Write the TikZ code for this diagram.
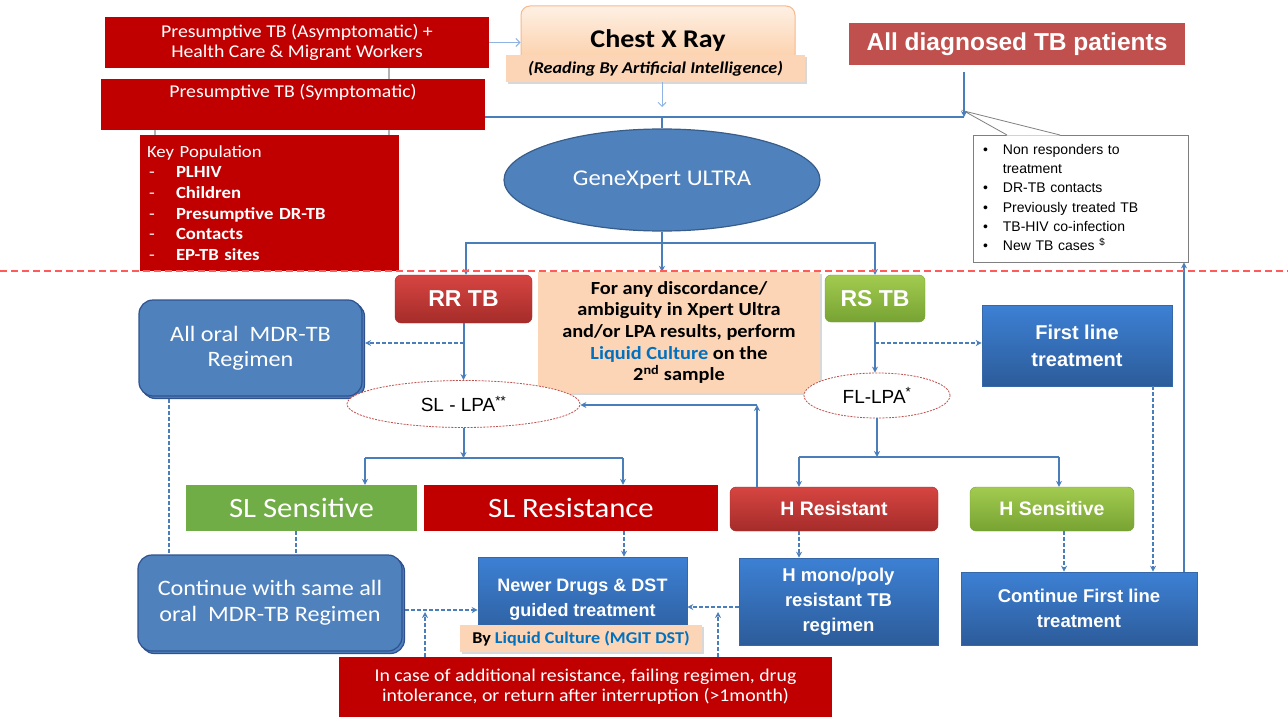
\documentclass[tikz,border=0pt]{standalone}
\usepackage{fontspec}
\setmainfont{Carlito}[FakeStretch=1.1]
\newfontfamily\arial{Liberation Sans}
\usetikzlibrary{arrows.meta,shapes.geometric,shadows,backgrounds}
\newcommand{\myfs}[2]{\fontsize{#1pt}{#2pt}\selectfont}
\definecolor{dred}{HTML}{C00000}
\definecolor{diagred}{HTML}{C0504D}
\definecolor{geneblue}{HTML}{4F81BD}
\definecolor{genedark}{HTML}{385D8A}
\definecolor{lineblue}{HTML}{4A7EBB}
\definecolor{lightline}{HTML}{8EB4E3}
\definecolor{peachc}{HTML}{FBD5B5}
\definecolor{cxrtop}{HTML}{FEF0E4}
\definecolor{cxrbot}{HTML}{FBC79A}
\definecolor{cxrborder}{HTML}{F9B88A}
\definecolor{lcblue}{HTML}{0070C0}
\definecolor{slgreen}{HTML}{70AD47}
\definecolor{oralblue}{HTML}{4F81BD}
\definecolor{oraldark}{HTML}{2F528F}
\definecolor{bgtop}{HTML}{3D80D4}
\definecolor{bgbot}{HTML}{2C5C9A}
\definecolor{bgborder}{HTML}{3668A8}
\definecolor{rgtop}{HTML}{D64541}
\definecolor{rgbot}{HTML}{A52C2A}
\definecolor{ggtop}{HTML}{A2CB4F}
\definecolor{ggbot}{HTML}{77A333}
\definecolor{lpared}{HTML}{C0504D}
\definecolor{callgray}{HTML}{7F7F7F}
\definecolor{reddash}{HTML}{FF5B5B}
\tikzset{
  redbox/.style={fill=dred, text=white, inner sep=0pt},
  bluegrad/.style={top color=bgtop, bottom color=bgbot, draw=bgborder, line width=0.6pt, text=white, inner sep=0pt},
  redgrad/.style={top color=rgtop, bottom color=rgbot, draw=rgbot, rounded corners=6pt, text=white, inner sep=0pt},
  greengrad/.style={top color=ggtop, bottom color=ggbot, draw=ggbot, rounded corners=6pt, text=white, inner sep=0pt},
  peachbox/.style={fill=peachc, inner sep=0pt, drop shadow={shadow xshift=2pt,shadow yshift=-2pt,opacity=0.3}},
  oral/.style={fill=oralblue, draw=oraldark, line width=1.2pt, rounded corners=14pt, text=white, inner sep=0pt},
  lpa/.style={ellipse, draw=lpared, dash pattern=on 2pt off 1.2pt, line width=0.8pt, fill=white, inner sep=0pt},
  conn/.style={draw=lineblue, line width=2pt},
  arr/.style={conn, -{Stealth[length=6pt,width=6pt]}},
  dconn/.style={draw=lineblue, line width=1.6pt, dash pattern=on 4pt off 2pt},
  darr/.style={dconn, -{Stealth[length=6pt,width=6pt]}},
  thinarr/.style={draw=lightline, line width=1pt, -{Straight Barb[length=4pt,width=8pt]}},
}
\begin{document}
\begin{tikzpicture}[x=1pt,y=-1pt]
\useasboundingbox (0,0) rectangle (1288,717);

% ---------- top section ----------
\node[redbox, minimum width=384pt, minimum height=51pt, align=center, font={\myfs{18}{20}}] (asym) at (297,42.5)
  {Presumptive TB (Asymptomatic) +\\Health Care \& Migrant Workers};
\node[redbox, minimum width=384pt, minimum height=51pt, align=center, font={\myfs{18}{21}}] (symp) at (293,104.5)
  {Presumptive TB (Symptomatic)\\\strut};
\node[redbox, minimum width=259pt, minimum height=136pt, text width=245pt, align=left, font={\myfs{17}{20.7}}] (key) at (269.5,203)
  {Key Population\\
   \makebox[29pt][l]{\hspace*{2pt}-}\textbf{PLHIV}\\
   \makebox[29pt][l]{\hspace*{2pt}-}\textbf{Children}\\
   \makebox[29pt][l]{\hspace*{2pt}-}\textbf{Presumptive DR-TB}\\
   \makebox[29pt][l]{\hspace*{2pt}-}\textbf{Contacts}\\
   \makebox[29pt][l]{\hspace*{2pt}-}\textbf{EP-TB sites}};

\node[top color=cxrtop, bottom color=cxrbot, draw=cxrborder, line width=1pt, rounded corners=9pt,
      minimum width=274pt, minimum height=70pt, inner sep=0pt, font={\bfseries\myfs{25.5}{28}}] (cxr) at (658,41) {Chest X Ray};
\node[peachbox, minimum width=299pt, minimum height=27pt, font={\bfseries\itshape\myfs{16.5}{18}}] (ai) at (655.5,68.5)
  {(Reading By Artificial Intelligence)};

\node[fill=diagred, minimum width=336pt, minimum height=42pt, inner sep=0pt, text=white, font={\arial\bfseries\myfs{24.5}{26}}] (diag) at (1017,44)
  {All diagnosed TB patients};

\node[ellipse, fill=geneblue, draw=genedark, line width=1.2pt, minimum width=316pt, minimum height=102pt, inner sep=0pt,
      text=white, font={\myfs{22.5}{25}}] (gx) at (662,180) {GeneXpert ULTRA};

\node[draw=callgray, fill=white, line width=0.8pt, minimum width=215pt, minimum height=127pt, text width=195pt,
      inner sep=0pt, align=left, font={\arial\myfs{14}{19.3}}] (callout) at (1080.5,198.5)
  {\begin{tabular}{@{}l@{\hspace{15pt}}l@{}}
   \textbullet & Non responders to\\
   & treatment\\
   \textbullet & DR-TB contacts\\
   \textbullet & Previously treated TB\\
   \textbullet & TB-HIV co-infection\\
   \textbullet & New TB cases \textsuperscript{\$}
   \end{tabular}};
% callout pointer
\fill[white] (1007,135.5) -- (964,111) -- (1060,135.5) -- cycle;
\draw[callgray, line width=0.8pt] (1007,135) -- (964,111) -- (1060,135);

% ---------- middle section ----------
\node[redgrad, minimum width=137pt, minimum height=48pt, font={\arial\bfseries\myfs{23}{25}}] (rr) at (463.5,299) {RR TB};
\node[peachbox, minimum width=282pt, minimum height=121pt, align=center, font={\bfseries\myfs{18.5}{21.7}}] (disc) at (679,332.5)
  {For any discordance/\\ambiguity in Xpert Ultra\\and/or LPA results, perform\\{\color{lcblue}Liquid Culture} on the\\2\textsuperscript{nd} sample};
\node[greengrad, minimum width=100pt, minimum height=47pt, font={\arial\bfseries\myfs{23}{25}}] (rs) at (875,298.5) {RS TB};

\node[oral, minimum width=223pt, minimum height=96pt] (allosh) at (253,350.5) {};
\node[oral, minimum width=223pt, minimum height=96pt, align=center, font={\myfs{22}{25}}] (allo) at (250.5,348)
  {All oral\enspace MDR-TB\\Regimen};

\node[lpa, minimum width=233pt, minimum height=47pt, font={\arial\myfs{19}{21}}] (sl) at (463.5,404) {SL - LPA\textsuperscript{**}};
\node[lpa, minimum width=146pt, minimum height=45pt, font={\arial\myfs{19}{21}}] (fl) at (877,395.5) {FL-LPA\textsuperscript{*}};

\node[bluegrad, minimum width=190pt, minimum height=81pt, align=center, font={\arial\bfseries\myfs{20}{27}}] (flt) at (1077,345.5)
  {First line\\treatment};

% ---------- lower section ----------
\node[fill=slgreen, minimum width=231pt, minimum height=46pt, inner sep=0pt, text=white, font={\myfs{28}{30}}] (sls) at (301.5,508) {SL Sensitive};
\node[fill=dred, minimum width=294pt, minimum height=46pt, inner sep=0pt, text=white, font={\myfs{28}{30}}] (slr) at (571,508) {SL Resistance};
\node[redgrad, minimum width=208pt, minimum height=44pt, font={\arial\bfseries\myfs{19.5}{22}}] (hr) at (834,509) {H Resistant};
\node[greengrad, minimum width=164pt, minimum height=44pt, font={\arial\bfseries\myfs{19.5}{22}}] (hs) at (1052,509) {H Sensitive};

\node[oral, minimum width=264pt, minimum height=96pt] (contsh) at (272.5,605.5) {};
\node[oral, minimum width=264pt, minimum height=96pt, align=center, font={\myfs{22}{26}}] (cont) at (270,603)
  {Continue with same all\\oral\enspace MDR-TB Regimen};

\node[bluegrad, minimum width=209pt, minimum height=85pt, align=center, font={\arial\bfseries\myfs{18}{25}}] (newer) at (582.5,599.5)
  {Newer Drugs \& DST\\guided treatment};
\node[peachbox, minimum width=242pt, minimum height=27pt, font={\bfseries\myfs{16.5}{18}}] (lc) at (581,638.5)
  {By {\color{lcblue}Liquid Culture (MGIT DST)}};

\node[bluegrad, minimum width=199pt, minimum height=87pt, align=center, font={\arial\bfseries\myfs{18.5}{25}}] (hm) at (838.5,601.5)
  {H mono/poly\\resistant TB\\regimen};
\node[bluegrad, minimum width=236pt, minimum height=73pt, align=center, font={\arial\bfseries\myfs{18.5}{25}}] (cfl) at (1079,608.5)
  {Continue First line\\treatment};

\node[redbox, minimum width=493pt, minimum height=60pt, align=center, font={\myfs{18}{20}}] (note) at (585.5,687)
  {In case of additional resistance, failing regimen, drug\\intolerance, or return after interruption (>1month)};

% ---------- background bits ----------
\begin{pgfonlayer}{background}
  \fill[white] (0,0) rectangle (1288,717);
  \coordinate (g1) at (389,0);
  \coordinate (g2) at (155,0);
  \draw[gray!60, line width=1.5pt] (asym.south -| g1) -- (key.north -| g1);
  \draw[gray!60, line width=1.5pt] (symp.south -| g2) -- (key.north -| g2);
\end{pgfonlayer}

% ---------- connectors ----------
\draw[thinarr] (asym.east) -- (asym.east -| cxr.west);
\coordinate (aiend) at (662,107);
\draw[thinarr] (ai.south -| aiend) -- (aiend);

\coordinate (hj) at (662,117);
\coordinate (dj) at (964,117);
\draw[arr] (diag.south -| dj) ++(0,7) -- (dj);
\draw[conn] (dj) -- (symp.east |- dj);
\draw[conn] (hj) -- (gx.north);

\coordinate (sj) at (662,243);
\coordinate (rrx) at (466,243);
\draw[conn] (gx.south) -- (sj);
\draw[arr] (sj) -- (rrx) -- (rrx |- rr.north);
\draw[arr] (sj) -- (sj |- disc.north);
\draw[arr] (sj) -| (rs.north);

\draw[arr] (rr.south) -- (sl.north);
\coordinate (rrd) at (463.5,343);
\draw[darr] (rrd) -- (rrd -| allosh.east);

\draw[arr] (rs.south) -- (rs.south |- fl.north);
\coordinate (rsd) at (875,343);
\draw[darr] (rsd) -- (rsd -| flt.west);

\coordinate (slj) at (463.5,458);
\coordinate (slL) at (365,458);
\coordinate (slR) at (623,458);
\draw[arr] (sl.south) -- (slj);
\draw[conn] (slL) -- (slR);
\draw[arr] (slL) -- (slL |- sls.north);
\draw[arr] (slR) -- (slR |- slr.north);

\coordinate (flj) at (877,457);
\coordinate (flL) at (799,457);
\coordinate (flR) at (1059,457);
\draw[arr] (fl.south) -- (flj);
\draw[conn] (flL) -- (flR);
\draw[arr] (flL) -- (flL |- hr.north);
\draw[arr] (flR) -- (flR |- hs.north);

\coordinate (hrc) at (757,405);
\draw[arr] (hr.north -| hrc) -- (hrc);
\draw[arr] (hrc) -- (hrc -| sl.east);

\coordinate (flx) at (1153,0);
\draw[darr] (flt.south -| flx) -- (cfl.north -| flx);
\coordinate (cfx) at (1184,0);
\draw[arr] (cfl.north -| cfx) -- (callout.south -| cfx);

\coordinate (aox) at (169,0);
\draw[dconn] (allosh.south -| aox) -- (cont.north -| aox);
\coordinate (ssx) at (296,0);
\draw[dconn] (sls.south -| ssx) -- (cont.north -| ssx);
\coordinate (srx) at (624,0);
\draw[darr] (slr.south -| srx) -- (newer.north -| srx);
\coordinate (cy) at (0,610);
\draw[darr] (contsh.east |- cy) -- (newer.west |- cy);
\coordinate (ny) at (0,607);
\draw[darr] (hm.west |- ny) -- (newer.east |- ny);
\coordinate (n1) at (425,612);
\coordinate (n2) at (718,612);
\draw[darr] (note.north -| n1) -- (n1);
\draw[darr] (note.north -| n2) -- (n2);
\draw[darr] (hr.south -| flL) -- (hm.north -| flL);
\coordinate (hsx) at (1064,0);
\draw[darr] (hs.south -| hsx) -- (cfl.north -| hsx);

% red dashed separator
\draw[reddash, line width=1.2pt, dash pattern=on 7pt off 4pt] (0,271) -- (1288,271);
\end{tikzpicture}
\end{document}
